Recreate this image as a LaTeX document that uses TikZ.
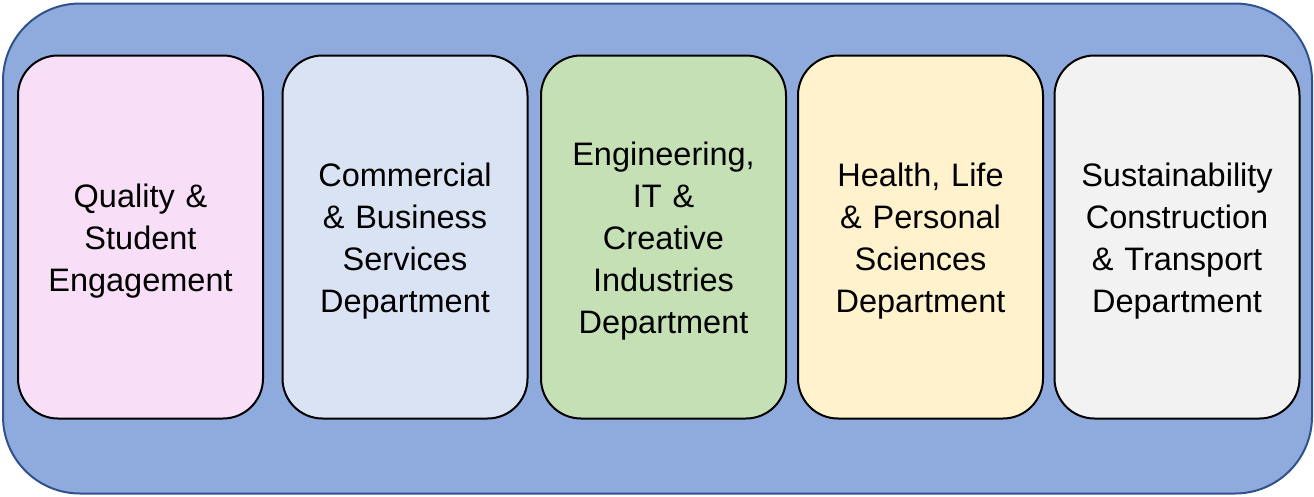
\documentclass[tikz,border=0pt]{standalone}
\usepackage{fontspec}
\setmainfont{Liberation Sans}
\definecolor{outerfill}{HTML}{8FAADC}
\definecolor{outerline}{HTML}{2F528F}
\definecolor{cpink}{HTML}{F8DEF7}
\definecolor{cblue}{HTML}{DAE3F3}
\definecolor{cgreen}{HTML}{C5E0B4}
\definecolor{cyellow}{HTML}{FFF2CC}
\definecolor{cgray}{HTML}{F2F2F2}
\begin{document}
\begin{tikzpicture}[x=1pt,y=-1pt,
  dept/.style={draw=black, line width=2pt, rounded corners=40pt, minimum width=245pt, minimum height=363pt, inner sep=0pt},
  depttext/.style={align=center, font=\fontsize{32.5}{42}\selectfont, inner sep=0pt, text width=230pt},
  outerbox/.style={draw=outerline, fill=outerfill, line width=2pt, rounded corners=77pt}]
\useasboundingbox (0,0) rectangle (1314,496);
\node[outerbox, minimum width=1309pt, minimum height=490pt, inner sep=0pt] (outer) at (657.5,248.5) {};
\node[dept, fill=cpink] (q) at (140.5,237) {};
\node[dept, fill=cblue] (c) at (405,237) {};
\node[dept, fill=cgreen] (e) at (663.5,237) {};
\node[dept, fill=cyellow] (h) at (920.5,237) {};
\node[dept, fill=cgray] (s) at (1177,237) {};
\node[depttext] (qt) at ([yshift=-4.5pt]q.center) {Quality \&\\Student\\Engagement};
\node[depttext] (ct) at ([yshift=-4.5pt]c.center) {Commercial\\\& Business\\Services\\Department};
\node[depttext] (et) at ([yshift=-4.5pt]e.center) {Engineering,\\IT \&\\Creative\\Industries\\Department};
\node[depttext] (ht) at ([yshift=-4.5pt]h.center) {Health, Life\\\& Personal\\Sciences\\Department};
\node[depttext] (st) at ([yshift=-4.5pt]s.center) {Sustainability\\Construction\\\& Transport\\Department};
\end{tikzpicture}
\end{document}
